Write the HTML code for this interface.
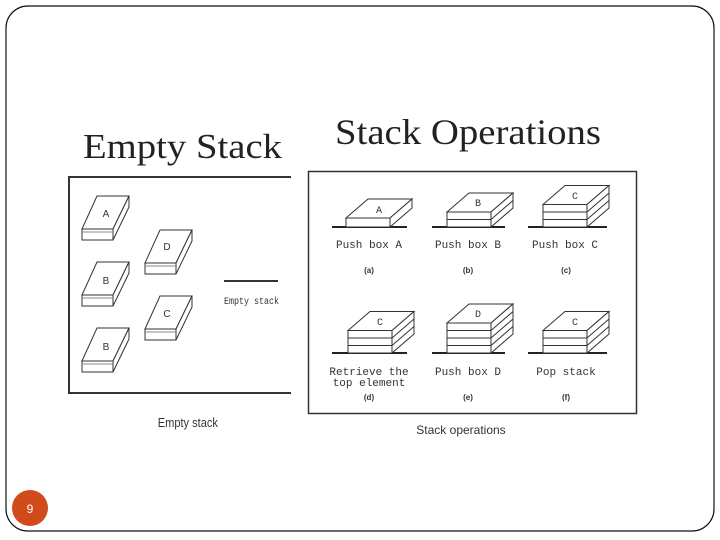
<!DOCTYPE html>
<html><head><meta charset="utf-8"><style>
html,body{margin:0;padding:0;background:#fff;width:720px;height:540px;overflow:hidden}
svg{display:block}
</style></head><body>
<svg width="720" height="540" viewBox="0 0 720 540" xmlns="http://www.w3.org/2000/svg">
<defs>
<g id="lb" fill="#fff" stroke="#333" stroke-width="1">
<polygon points="0,0 15,-33 47,-33 31,0"/>
<rect x="0" y="0" width="31" height="11"/>
<polygon points="31,0 47,-33 47,-22 31,11"/>
<line x1="0" y1="3" x2="31" y2="3" stroke="#888"/>
</g>
<g id="b1" fill="#fff" stroke="#333" stroke-width="1">
<polygon points="0,-9 22,-28 66,-28 44,-9"/>
<rect x="0" y="-9" width="44" height="9"/>
<polygon points="44,-9 66,-28 66,-19 44,0"/>
</g>
<g id="b2" fill="#fff" stroke="#333" stroke-width="1">
<polygon points="0,-15 22,-34 66,-34 44,-15"/>
<rect x="0" y="-15" width="44" height="15"/>
<polygon points="44,-15 66,-34 66,-19 44,0"/>
<line x1="0" y1="-7.5" x2="44" y2="-7.5"/><line x1="44" y1="-7.5" x2="66" y2="-26.5"/>
</g>
<g id="b3" fill="#fff" stroke="#333" stroke-width="1">
<polygon points="0,-22.5 22,-41.5 66,-41.5 44,-22.5"/>
<rect x="0" y="-22.5" width="44" height="22.5"/>
<polygon points="44,-22.5 66,-41.5 66,-19 44,0"/>
<line x1="0" y1="-7.5" x2="44" y2="-7.5"/><line x1="44" y1="-7.5" x2="66" y2="-26.5"/>
<line x1="0" y1="-15" x2="44" y2="-15"/><line x1="44" y1="-15" x2="66" y2="-34"/>
</g>
<g id="b4" fill="#fff" stroke="#333" stroke-width="1">
<polygon points="0,-30 22,-49 66,-49 44,-30"/>
<rect x="0" y="-30" width="44" height="30"/>
<polygon points="44,-30 66,-49 66,-19 44,0"/>
<line x1="0" y1="-7.5" x2="44" y2="-7.5"/><line x1="44" y1="-7.5" x2="66" y2="-26.5"/>
<line x1="0" y1="-15" x2="44" y2="-15"/><line x1="44" y1="-15" x2="66" y2="-34"/>
<line x1="0" y1="-22.5" x2="44" y2="-22.5"/><line x1="44" y1="-22.5" x2="66" y2="-41.5"/>
</g>
</defs>
<rect x="6" y="6" width="708" height="525" rx="22" fill="#fff" stroke="#111" stroke-width="1.2"/>
<text x="83" y="158" font-family="Liberation Serif, serif" font-size="35" fill="#222" textLength="199" lengthAdjust="spacingAndGlyphs">Empty Stack</text>
<text x="335" y="144" font-family="Liberation Serif, serif" font-size="36" fill="#222" textLength="266" lengthAdjust="spacingAndGlyphs">Stack Operations</text>
<!-- left image -->
<polyline points="291,177 69,177 69,393 291,393" fill="none" stroke="#333" stroke-width="2"/>
<use href="#lb" x="82" y="229"/>
<use href="#lb" x="82" y="295"/>
<use href="#lb" x="82" y="361"/>
<use href="#lb" x="145" y="263"/>
<use href="#lb" x="145" y="329"/>
<g font-family="Liberation Sans, sans-serif" font-size="10" fill="#333" text-anchor="middle">
<text x="106" y="217">A</text><text x="106" y="284">B</text><text x="106" y="350">B</text>
<text x="167" y="250">D</text><text x="167" y="317">C</text>
</g>
<line x1="224" y1="281" x2="278" y2="281" stroke="#333" stroke-width="2"/>
<text x="224" y="304" font-family="Liberation Mono, monospace" font-size="10" fill="#333" textLength="55" lengthAdjust="spacingAndGlyphs">Empty stack</text>
<text x="188" y="427" font-family="Liberation Sans, sans-serif" font-size="13" fill="#333" text-anchor="middle" transform="scale(0.85,1) translate(33,0)">Empty stack</text>
<!-- right image -->
<rect x="308.5" y="171.5" width="328" height="242" fill="#fff" stroke="#333" stroke-width="1.5"/>
<g stroke="#222" stroke-width="2">
<line x1="332" y1="227" x2="407" y2="227"/><line x1="432" y1="227" x2="505" y2="227"/><line x1="528" y1="227" x2="607" y2="227"/>
<line x1="332" y1="353" x2="407" y2="353"/><line x1="432" y1="353" x2="505" y2="353"/><line x1="528" y1="353" x2="607" y2="353"/>
</g>
<use href="#b1" x="346" y="227"/>
<use href="#b2" x="447" y="227"/>
<use href="#b3" x="543" y="227"/>
<use href="#b3" x="348" y="353"/>
<use href="#b4" x="447" y="353"/>
<use href="#b3" x="543" y="353"/>
<g font-family="Liberation Mono, monospace" font-size="11" fill="#333" text-anchor="middle">
<text x="379" y="213" font-size="10">A</text><text x="478" y="206" font-size="10">B</text><text x="575" y="199" font-size="10">C</text>
<text x="380" y="325" font-size="10">C</text><text x="478" y="317" font-size="10">D</text><text x="575" y="325" font-size="10">C</text>
<text x="369" y="248">Push box A</text><text x="468" y="248">Push box B</text><text x="565" y="248">Push box C</text>
<text x="369" y="375">Retrieve the</text><text x="369" y="386">top element</text>
<text x="468" y="375">Push box D</text><text x="566" y="375">Pop stack</text>
</g>
<g font-family="Liberation Sans, sans-serif" font-size="8" font-weight="bold" fill="#333" text-anchor="middle">
<text x="369" y="273">(a)</text><text x="468" y="273">(b)</text><text x="566" y="273">(c)</text>
<text x="369" y="400">(d)</text><text x="468" y="400">(e)</text><text x="566" y="400">(f)</text>
</g>
<text x="461" y="434" font-family="Liberation Sans, sans-serif" font-size="12" fill="#333" text-anchor="middle">Stack operations</text>
<circle cx="30" cy="508" r="18" fill="#d04a1c"/>
<text x="30" y="513" font-family="Liberation Sans, sans-serif" font-size="12" fill="#fff" text-anchor="middle">9</text>
</svg>
</body></html>
